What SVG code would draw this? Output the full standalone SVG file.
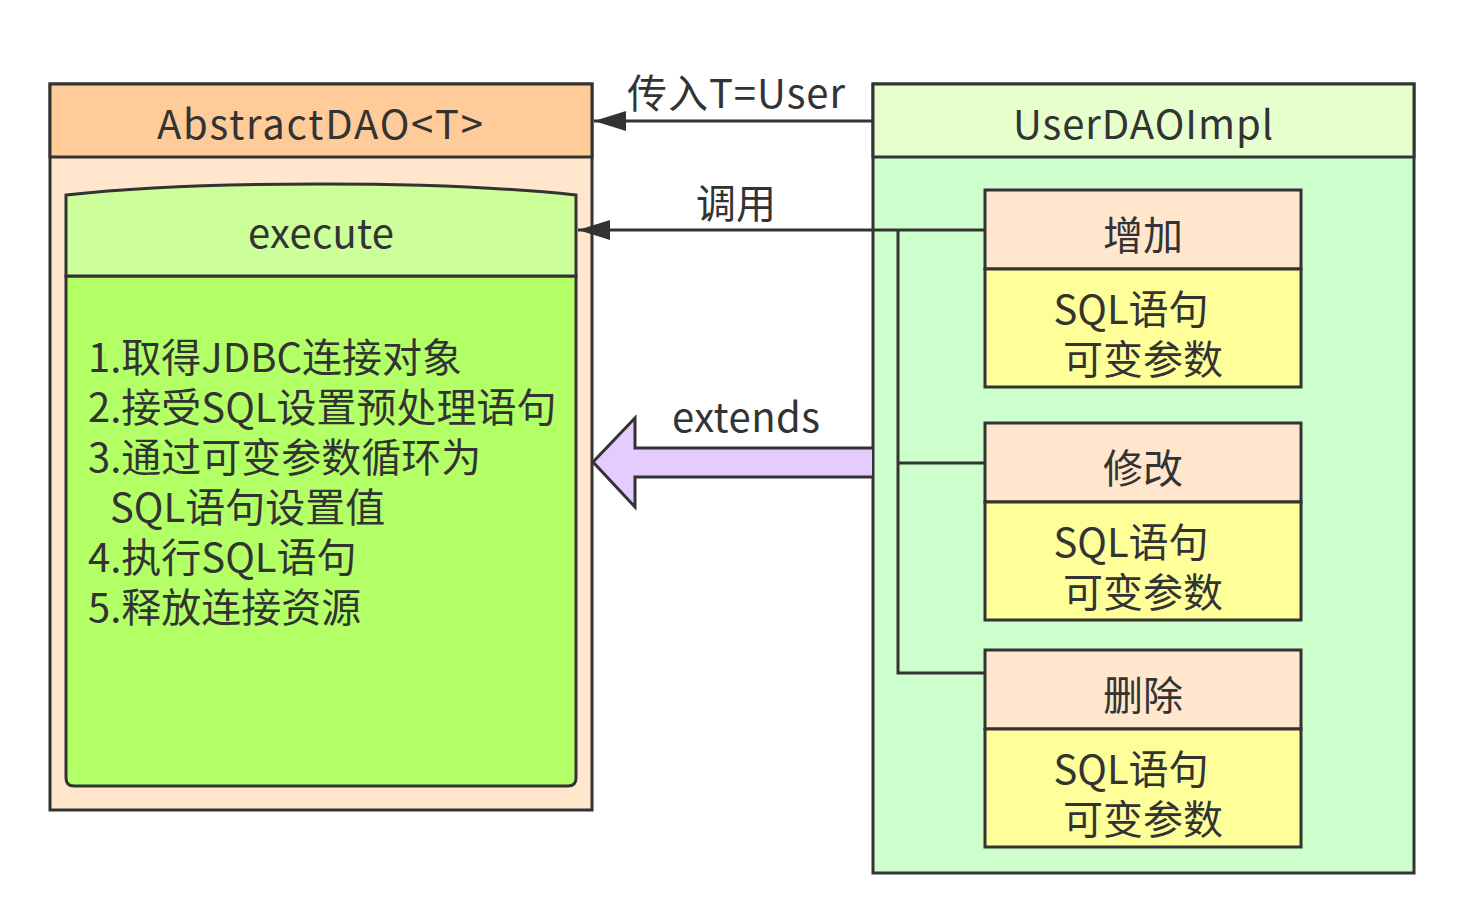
<svg xmlns="http://www.w3.org/2000/svg" width="1464" height="924" viewBox="0 0 1464 924">
<defs>
<style>
.s{stroke:#333;stroke-width:3;}
.t{font-family:"Noto Sans CJK SC","Noto Sans",sans-serif;fill:#333;font-size:40px;}
.l{fill:none;stroke:#333;stroke-width:3;}
</style>
<marker id="ah" viewBox="0 0 32 20" refX="32" refY="10" markerWidth="32" markerHeight="20" markerUnits="userSpaceOnUse" orient="auto-start-reverse">
<path d="M0,0 L32,10 L0,20 Z" fill="#333"/>
</marker>
</defs>
<rect width="1464" height="924" fill="#fff"/>
<g id="abstractdao">
<rect x="50" y="84" width="542" height="726" fill="#FFE6CC" class="s"/>
<rect x="50" y="84" width="542" height="73" fill="#FFCC99" class="s"/>
<text x="157" y="139" class="t" textLength="326" lengthAdjust="spacing">AbstractDAO&lt;T&gt;</text>
</g>
<g id="execute">
<path d="M66,276 L66,778 Q66,786 74,786 L568,786 Q576,786 576,778 L576,276 Z" fill="#B3FF66" class="s"/>
<path d="M66,195 C150,186 240,184 321,184 C402,184 492,186 576,195 L576,276 L66,276 Z" fill="#CCFF99" class="s"/>
<text x="248" y="248" class="t" textLength="146" lengthAdjust="spacing">execute</text>
<g class="t">
<text x="88" y="372">1.取得JDBC连接对象</text>
<text x="88" y="422">2.接受SQL设置预处理语句</text>
<text x="88" y="472">3.通过可变参数循环为</text>
<text x="110" y="522">SQL语句设置值</text>
<text x="88" y="572">4.执行SQL语句</text>
<text x="88" y="622">5.释放连接资源</text>
</g>
</g>
<g id="userdaoimpl">
<rect x="873" y="84" width="541" height="789" fill="#CCFFCC" class="s"/>
<rect x="873" y="84" width="541" height="73" fill="#E6FFCC" class="s"/>
<text x="1013" y="139" class="t" textLength="260" lengthAdjust="spacing">UserDAOImpl</text>
</g>
<g id="connectors">
<path d="M873,121 L594,121" class="l" marker-end="url(#ah)"/>
<text x="627" y="108" class="t" textLength="218" lengthAdjust="spacing">传入T=User</text>
<path d="M985,230 L578,230" class="l" marker-end="url(#ah)"/>
<text x="736" y="218" text-anchor="middle" class="t">调用</text>
<path d="M898,230 L898,673 L985,673 M898,463 L985,463" class="l"/>
<path d="M872,448 L635,448 L635,418 L593,462 L635,507 L635,477 L872,477" fill="#E5CCFF" stroke="#333" stroke-width="3"/>
<text x="672" y="432" class="t" textLength="148" lengthAdjust="spacing">extends</text>
</g>
<g id="add">
<rect x="985" y="190" width="316" height="79" fill="#FFE6CC" class="s"/>
<rect x="985" y="269" width="316" height="118" fill="#FFFF99" class="s"/>
<text x="1143" y="250" text-anchor="middle" class="t">增加</text>
<text x="1131" y="324" text-anchor="middle" class="t">SQL语句</text>
<text x="1143" y="374" text-anchor="middle" class="t">可变参数</text>
</g>
<g id="modify">
<rect x="985" y="423" width="316" height="79" fill="#FFE6CC" class="s"/>
<rect x="985" y="502" width="316" height="118" fill="#FFFF99" class="s"/>
<text x="1143" y="483" text-anchor="middle" class="t">修改</text>
<text x="1131" y="557" text-anchor="middle" class="t">SQL语句</text>
<text x="1143" y="607" text-anchor="middle" class="t">可变参数</text>
</g>
<g id="delete">
<rect x="985" y="650" width="316" height="79" fill="#FFE6CC" class="s"/>
<rect x="985" y="729" width="316" height="118" fill="#FFFF99" class="s"/>
<text x="1143" y="710" text-anchor="middle" class="t">删除</text>
<text x="1131" y="784" text-anchor="middle" class="t">SQL语句</text>
<text x="1143" y="834" text-anchor="middle" class="t">可变参数</text>
</g>
</svg>
